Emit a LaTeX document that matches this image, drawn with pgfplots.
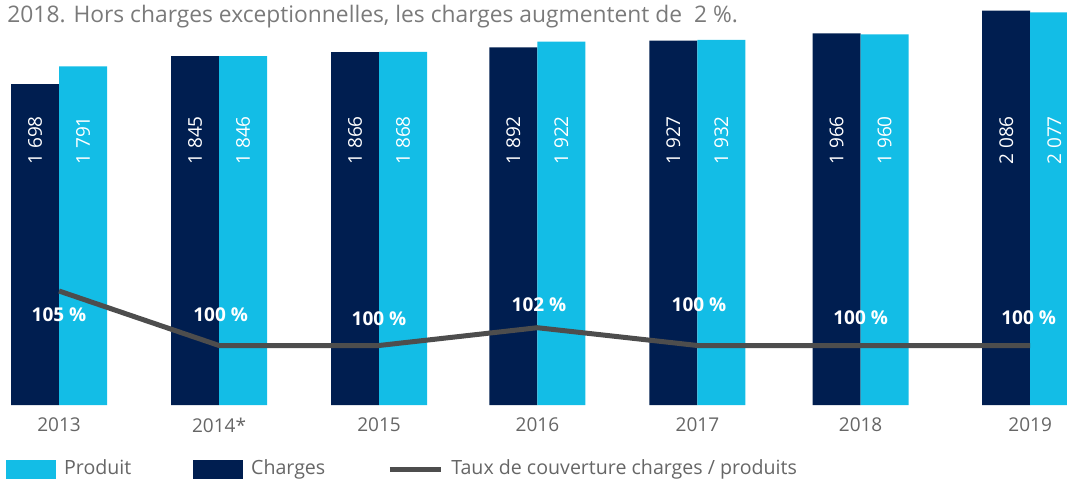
\documentclass[border=0pt]{standalone}
\usepackage{fontspec}
\setmainfont{Open Sans}
\usepackage{pgfplots}
\pgfplotsset{compat=1.18}

\definecolor{navy}{HTML}{001E50}
\definecolor{cyanbar}{HTML}{13BDE6}
\definecolor{lineg}{HTML}{4D4D4D}
\definecolor{txtg}{HTML}{666666}
\definecolor{titleg}{HTML}{7A7A7A}

\newcommand{\lblfont}{\fontsize{9.5}{11}\selectfont}
\newcommand{\legfont}{\fontsize{9.8}{11}\selectfont}

\begin{document}
\begin{tikzpicture}[x=1pt,y=1pt]
\useasboundingbox (0,-37) rectangle (533.5,202.5);

% title line cut from the text above the chart
\node[anchor=base west, inner sep=0pt, text=titleg, font=\fontsize{11.4}{13}\selectfont]
  at (3.5,191.5) {2018. Hors charges exceptionnelles, les charges augmentent de\ \ 2 \%.};

% bars: charges and produits
\begin{axis}[
  at={(0,0)}, anchor=south west,
  scale only axis, width=533.5pt, height=198.5pt,
  xmin=-0.369, xmax=6.3, ymin=0, ymax=2100,
  hide y axis,
  axis x line*=bottom, x axis line style={draw=none},
  major tick length=0pt,
  xtick={0,1,2,2.99,3.99,5.01,6.07},
  xticklabels={2013,2014*,2015,2016,2017,2018,2019},
  xticklabel style={font=\lblfont, text=txtg, anchor=center, yshift=-10pt},
  legend columns=3,
  legend style={at={(0.0056,-0.1612)}, anchor=west, draw=none, fill=none,
    inner sep=0pt, font=\legfont, text=txtg, nodes={inner sep=0pt},
    column sep=4pt, /tikz/every even column/.append style={column sep=31pt}},
]
\addlegendimage{legend image code/.code={\fill[cyanbar] (0pt,-4.5pt) rectangle (24.5pt,4.5pt);}}
\addlegendimage{legend image code/.code={\fill[navy] (0pt,-4.5pt) rectangle (24.5pt,4.5pt);}}
\addlegendimage{legend image code/.code={\draw[lineg, line width=2.5pt] (0pt,0pt) -- (25.5pt,0pt);}}
\legend{Produit, Charges, Taux de couverture charges / produits}

\addplot[ybar, bar width=24pt, bar shift=-12pt, fill=navy, draw=none, forget plot] coordinates {
  (0,1698) (1,1845) (2,1866) (2.99,1892) (3.99,1927) (5.01,1966) (6.07,2086)
};
\addplot[ybar, bar width=24pt, bar shift=12pt, fill=cyanbar, draw=none, forget plot] coordinates {
  (0,1791) (1,1846) (2,1868) (2.99,1922) (3.99,1932) (5.01,1960) (6.07,2077)
};

\begin{scope}[every node/.style={rotate=90, anchor=east, inner sep=0pt, text=white, font=\lblfont}]
\node at (axis cs:-0.15,1530) {1 698};
\node at (axis cs:0.15,1530) {1 791};
\node at (axis cs:0.85,1530) {1 845};
\node at (axis cs:1.15,1530) {1 846};
\node at (axis cs:1.85,1530) {1 866};
\node at (axis cs:2.15,1530) {1 868};
\node at (axis cs:2.84,1530) {1 892};
\node at (axis cs:3.14,1530) {1 922};
\node at (axis cs:3.84,1530) {1 927};
\node at (axis cs:4.14,1530) {1 932};
\node at (axis cs:4.86,1530) {1 966};
\node at (axis cs:5.16,1530) {1 960};
\node at (axis cs:5.92,1530) {2 086};
\node at (axis cs:6.22,1530) {2 077};
\end{scope}
\end{axis}

% coverage ratio line on its own hidden scale
\begin{axis}[
  at={(0,0)}, anchor=south west,
  scale only axis, width=533.5pt, height=198.5pt,
  xmin=-0.369, xmax=6.3, ymin=94.05, ymax=133.75,
  hide x axis, hide y axis,
]
\addplot[lineg, line width=2.5pt, mark=none] coordinates {
  (0,105.45) (1,100) (2,100) (2.99,101.78) (3.99,100) (5.01,100) (6.07,100)
};
\begin{scope}[every node/.style={inner sep=0pt, text=white, font=\lblfont\bfseries}]
\node at (axis cs:0,103.05) {105 \%};
\node at (axis cs:1.01,103.05) {100 \%};
\node at (axis cs:2,102.65) {100 \%};
\node at (axis cs:3.0,104.05) {102 \%};
\node at (axis cs:4.0,104.05) {100 \%};
\node at (axis cs:5.01,102.75) {100 \%};
\node at (axis cs:6.06,102.75) {100 \%};
\end{scope}
\end{axis}
\end{tikzpicture}
\end{document}
